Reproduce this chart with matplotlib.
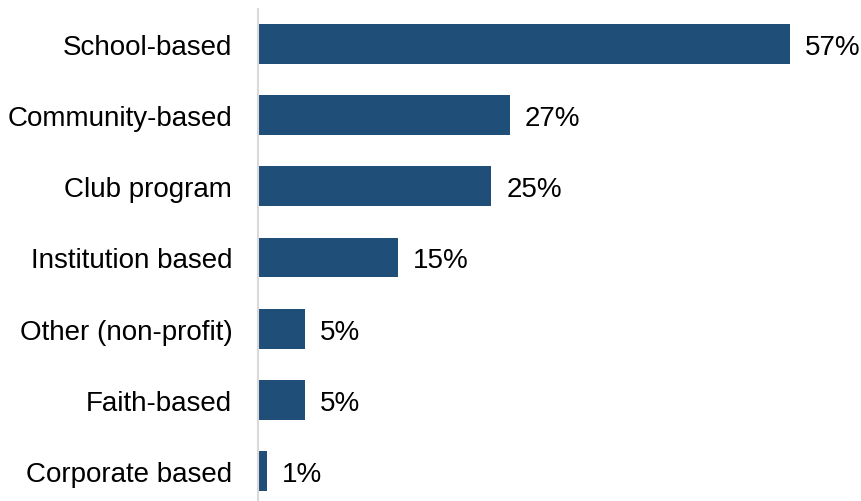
import matplotlib.pyplot as plt

plt.rcParams['font.family'] = ['Liberation Sans', 'DejaVu Sans']

categories = ["School-based", "Community-based", "Club program", "Institution based",
              "Other (non-profit)", "Faith-based", "Corporate based"]
values = [57, 27, 25, 15, 5, 5, 1]

BAR_COLOR = "#1f4e79"

fig = plt.figure(figsize=(8.62, 5.02), dpi=100)
ax = fig.add_axes([258 / 862, 0, 602 / 862, 492 / 502])

pos = list(range(len(categories)))
ax.barh(pos, values, height=0.56, color=BAR_COLOR)

for p, v in zip(pos, values):
    ax.text(v + 1.6, p, f"{v}%", va="center_baseline", ha="left",
            fontsize=20, color="#000000")

ax.set_xlim(0, 64.5)
ax.set_ylim(6.42, -0.49)
ax.set_yticks(pos)
ax.set_yticklabels(categories, fontsize=20, va="center_baseline")
ax.tick_params(axis="y", length=0, pad=18.5)
ax.set_xticks([])

for s in ["top", "right", "bottom"]:
    ax.spines[s].set_visible(False)
ax.spines["left"].set_color("#d9d9d9")
ax.spines["left"].set_linewidth(1.5)

fig.savefig("out.png", dpi=100)
